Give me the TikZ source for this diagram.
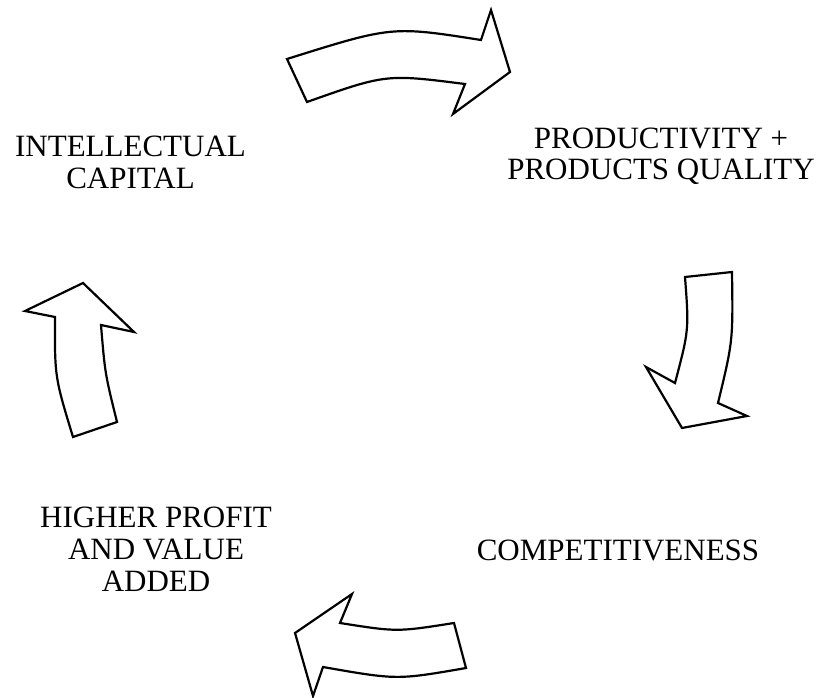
\documentclass[tikz,border=0pt]{standalone}
\usepackage{fontspec}
\setmainfont{Liberation Serif}
\begin{document}
\begin{tikzpicture}[x=1pt,y=-1pt,
  bigarrow/.style={draw=black,line width=2.2pt,line join=miter,fill=white},
  lbl/.style={font=\fontsize{31}{32}\selectfont,align=center,anchor=base,inner sep=0pt}]
\useasboundingbox (0,0) rectangle (820,698);
% top arrow (to the right)
\draw[bigarrow] (287,59) .. controls (392,26) .. (481,40) -- (491,10) -- (510,72) -- (453,114) -- (465,84)
  .. controls (386,74) .. (307,102) -- cycle;
% right arrow (down)
\draw[bigarrow] (685,277) -- (732,272) .. controls (733,341) .. (718,403) -- (747,416) -- (682,428) -- (646,367) -- (675,383)
  .. controls (689,330) .. cycle;
% bottom arrow (to the left)
\draw[bigarrow] (454,623) -- (466,668) .. controls (397,680) .. (323,667) -- (313,696) -- (295,633) -- (352,594) -- (340,623)
  .. controls (397,632) .. cycle;
% left arrow (up)
\draw[bigarrow] (73,437) -- (117,422) .. controls (105,373.5) .. (101,325) -- (134,332) -- (83,283) -- (25,311) -- (55,317)
  .. controls (54.7,377) .. cycle;
\node[lbl] (ic) at (130.5,188.3) {INTELLECTUAL\\CAPITAL};
\node[lbl] (pq) at (661,180) {PRODUCTIVITY +\\PRODUCTS QUALITY};
\node[lbl] (cp) at (618,560) {COMPETITIVENESS};
\node[lbl] (hp) at (156,591.7) {HIGHER PROFIT\\AND VALUE\\ADDED};
\end{tikzpicture}
\end{document}
